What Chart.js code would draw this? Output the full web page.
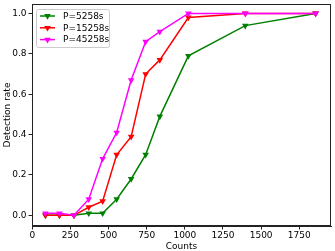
<!DOCTYPE html>
<html>
<head>
<meta charset="utf-8">
<script src="https://cdn.jsdelivr.net/npm/chart.js@4/dist/chart.umd.min.js"></script>
<style>
  html, body { margin: 0; padding: 0; background: #fff; }
  #wrap { width: 335px; height: 251px; }
</style>
</head>
<body>
<div id="wrap"><canvas id="chart" width="335" height="251"></canvas></div>
<script>
// counts on the x axis
const counts = [86, 178, 273, 370, 461, 553, 648, 743, 836, 1023, 1396, 1857];

// detection rate per period
const rateP5258 = [0, 0, 0, 0.01, 0.01, 0.08, 0.18, 0.30, 0.49, 0.79, 0.94, 1.0];
const rateP15258 = [0, 0, 0, 0.04, 0.07, 0.30, 0.39, 0.70, 0.77, 0.98, 1.0, 1.0];
const rateP45258 = [0.01, 0.01, 0, 0.08, 0.28, 0.41, 0.67, 0.86, 0.91, 1.0, 1.0, 1.0];

const seriesLabels = ["P=5258s", "P=15258s", "P=45258s"];
const xTicks = [0, 250, 500, 750, 1000, 1250, 1500, 1750];
const yTicks = [0, 0.2, 0.4, 0.6, 0.8, 1.0];

const FONT = "'DejaVu Sans', sans-serif";

function toPoints(ys) {
    return counts.map((x, i) => ({ x: x, y: ys[i] }));
}

function makeSet(label, ys, color, order) {
    return {
        label: label,
        data: toPoints(ys),
        showLine: true,
        borderColor: color,
        backgroundColor: color,
        borderWidth: 1.5,
        pointStyle: "triangle",
        rotation: 180,
        pointRadius: 3.8,
        pointBorderWidth: 0,
        order: order,
    };
}

// box around the plot + legend inside the plot
const framePlugin = {
    id: "frame",
    afterDraw(chart) {
        const ctx = chart.ctx;
        const a = chart.chartArea;
        ctx.save();
        ctx.strokeStyle = "#222";
        ctx.lineWidth = 1;
        ctx.strokeRect(Math.round(a.left) + 0.5, Math.round(a.top) + 0.5,
            Math.round(a.right - a.left) - 1, Math.round(a.bottom - a.top) - 1);

        // legend
        const x0 = a.left + 4, y0 = a.top + 5;
        ctx.fillStyle = "rgba(255,255,255,0.8)";
        ctx.strokeStyle = "#ccc";
        ctx.beginPath();
        ctx.roundRect(x0 + 0.5, y0 + 0.5, 73, 38, 2);
        ctx.fill();
        ctx.stroke();
        ctx.font = "9px " + FONT;
        ctx.textBaseline = "middle";
        ctx.textAlign = "left";
        chart.data.datasets.forEach((ds, i) => {
            const y = y0 + 7 + i * 11.8;
            ctx.strokeStyle = ds.borderColor;
            ctx.lineWidth = 1.5;
            ctx.beginPath();
            ctx.moveTo(x0 + 4, y);
            ctx.lineTo(x0 + 19, y);
            ctx.stroke();
            const cx = x0 + 11.5, r = 3.8;
            const e = r * 3 / Math.sqrt(3), h = e * Math.sqrt(3) / 2;
            ctx.fillStyle = ds.backgroundColor;
            ctx.beginPath();
            ctx.moveTo(cx - e / 2, y - h / 3);
            ctx.lineTo(cx + e / 2, y - h / 3);
            ctx.lineTo(cx, y + 2 * h / 3);
            ctx.closePath();
            ctx.fill();
            ctx.fillStyle = "#000";
            ctx.fillText(ds.label, x0 + 27, y + 0.5);
        });
        ctx.restore();
    },
};

new Chart(document.getElementById("chart"), {
    type: "scatter",
    data: {
        datasets: [
            makeSet(seriesLabels[0], rateP5258, "#008000", 3),
            makeSet(seriesLabels[1], rateP15258, "#ff0000", 2),
            makeSet(seriesLabels[2], rateP45258, "#ff00ff", 1),
        ],
    },
    options: {
        responsive: false,
        animation: false,
        devicePixelRatio: 1,
        layout: { padding: { top: 0, right: 0, left: 0, bottom: 0 } },
        plugins: {
            legend: { display: false },
            tooltip: { enabled: false },
        },
        scales: {
            x: {
                type: "linear",
                min: -2,
                max: 1958,
                afterBuildTicks: (s) => { s.ticks = xTicks.map((v) => ({ value: v })); },
                afterFit: (s) => {
                    s.height = 25;
                    s.paddingLeft = 0;
                    s.paddingRight = 0;
                },
                grid: { drawOnChartArea: false, tickLength: 3.5, color: "#222" },
                border: { color: "#222" },
                ticks: {
                    color: "#000",
                    font: { family: FONT, size: 9 },
                    padding: 1,
                    maxRotation: 0,
                    autoSkip: false,
                    callback: (v) => String(v),
                },
                title: {
                    display: true,
                    text: "Counts",
                    color: "#000",
                    font: { family: FONT, size: 9 },
                    padding: { top: 0, bottom: -1 },
                },
            },
            y: {
                min: -0.053,
                max: 1.047,
                afterBuildTicks: (s) => { s.ticks = yTicks.map((v) => ({ value: v })); },
                afterFit: (s) => {
                    s.width = 32;
                    s.paddingTop = 0;
                    s.paddingBottom = 0;
                },
                grid: { drawOnChartArea: false, tickLength: 3.5, color: "#222" },
                border: { color: "#222" },
                ticks: {
                    color: "#000",
                    font: { family: FONT, size: 9 },
                    padding: 2,
                    callback: (v) => v.toFixed(1),
                },
                title: {
                    display: true,
                    text: "Detection rate",
                    color: "#000",
                    font: { family: FONT, size: 9 },
                    padding: { top: 2, bottom: 0 },
                },
            },
        },
    },
    plugins: [framePlugin],
});
</script>
</body>
</html>
